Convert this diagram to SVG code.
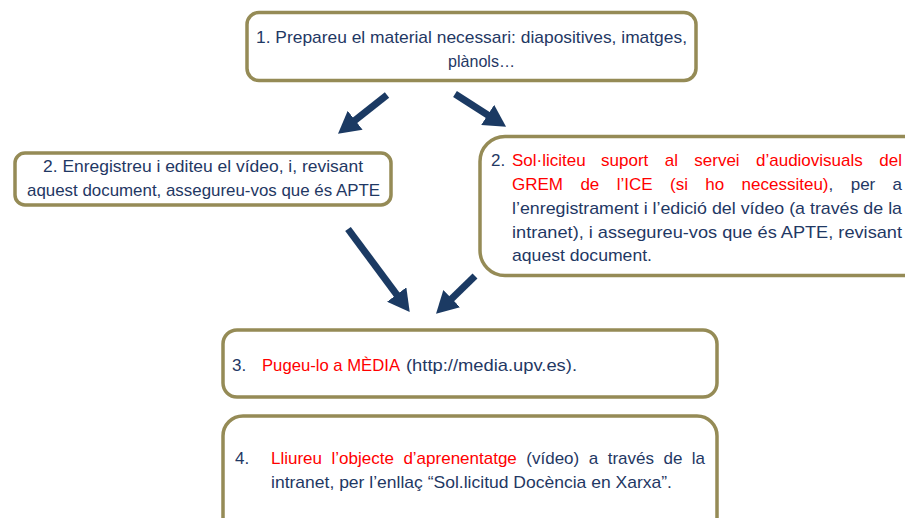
<svg xmlns="http://www.w3.org/2000/svg" width="905" height="518" viewBox="0 0 905 518">
<style>
.box{fill:#ffffff;stroke:#958B56;stroke-width:3.5}
.t{font-family:"Liberation Sans",Arial,sans-serif;font-size:17px;fill:#1F3864}
.r{fill:#FF0000}
.arr{stroke:#1B3A63;stroke-width:7;fill:none;marker-end:url(#ah)}
</style>
<defs>
<marker id="ah" markerUnits="userSpaceOnUse" markerWidth="22" markerHeight="24" viewBox="0 0 20 22" refX="6" refY="11" orient="auto">
<path d="M0,0 L20,11 L0,22 z" fill="#1B3A63"/>
</marker>
</defs>
<rect width="905" height="518" fill="#ffffff"/>
<g id="connectors">
<line class="arr" x1="387" y1="95" x2="350" y2="124.3"/>
<line class="arr" x1="455" y1="94" x2="493.2" y2="118.5"/>
<line class="arr" x1="348" y1="229" x2="400.6" y2="299.8"/>
<line class="arr" x1="475" y1="276" x2="447" y2="303.2"/>
</g>
<g id="n1">
<rect class="box" x="247" y="12.5" width="449" height="68" rx="12"/>
<text class="t" x="256" y="43" textLength="431" lengthAdjust="spacingAndGlyphs">1. Prepareu el material necessari: diapositives, imatges,</text>
<text class="t" x="448" y="67" textLength="67" lengthAdjust="spacingAndGlyphs">plànols…</text>
</g>
<g id="n2a">
<rect class="box" x="15" y="153" width="376" height="52" rx="10"/>
<text class="t" x="43" y="172" textLength="320" lengthAdjust="spacingAndGlyphs">2. Enregistreu i editeu el vídeo, i, revisant</text>
<text class="t" x="27" y="196" textLength="353" lengthAdjust="spacingAndGlyphs">aquest document, assegureu-vos que és APTE</text>
</g>
<g id="n2b">
<rect class="box" x="480" y="136.5" width="460" height="139" rx="25"/>
<text class="t" x="491" y="166">2.</text>
<text class="t r" x="512" y="166">Sol·liciteu</text>
<text class="t r" x="601.1" y="166">suport</text>
<text class="t r" x="664.7" y="166">al</text>
<text class="t r" x="694.3" y="166">servei</text>
<text class="t r" x="756" y="166">d’audiovisuals</text>
<text class="t r" x="902" y="166" text-anchor="end">del</text>
<text class="t r" x="512" y="190">GREM</text>
<text class="t r" x="580.4" y="190">de</text>
<text class="t r" x="616.7" y="190">l’ICE</text>
<text class="t r" x="670" y="190">(si</text>
<text class="t r" x="705.3" y="190">ho</text>
<text class="t" x="741.6" y="190"><tspan class="r">necessiteu)</tspan>,</text>
<text class="t" x="850.7" y="190">per</text>
<text class="t" x="902" y="190" text-anchor="end">a</text>
<text class="t" x="512" y="214" textLength="390" lengthAdjust="spacingAndGlyphs">l’enregistrament i l’edició del vídeo (a través de la</text>
<text class="t" x="512" y="238" textLength="390" lengthAdjust="spacingAndGlyphs">intranet), i assegureu-vos que és APTE, revisant</text>
<text class="t" x="512" y="261" textLength="140" lengthAdjust="spacingAndGlyphs">aquest document.</text>
</g>
<g id="n3">
<rect class="box" x="223" y="330" width="494" height="67" rx="14"/>
<text class="t" x="232" y="371">3.</text>
<text class="t r" x="262" y="371" textLength="138" lengthAdjust="spacingAndGlyphs">Pugeu-lo a MÈDIA</text>
<text class="t" x="406" y="371" textLength="171" lengthAdjust="spacingAndGlyphs">(http://media.upv.es).</text>
</g>
<g id="n4">
<rect class="box" x="223" y="416" width="494" height="130" rx="20"/>
<text class="t" x="235" y="464">4.</text>
<text class="t r" x="271" y="464">Lliureu</text>
<text class="t r" x="331.5" y="464">l’objecte</text>
<text class="t r" x="403.4" y="464">d’aprenentatge</text>
<text class="t" x="526.3" y="464">(vídeo)</text>
<text class="t" x="588.7" y="464">a</text>
<text class="t" x="607.7" y="464">través</text>
<text class="t" x="663.5" y="464">de</text>
<text class="t" x="705" y="464" text-anchor="end">la</text>
<text class="t" x="271" y="488" textLength="401" lengthAdjust="spacingAndGlyphs">intranet, per l’enllaç “Sol.licitud Docència en Xarxa”.</text>
</g>
</svg>
